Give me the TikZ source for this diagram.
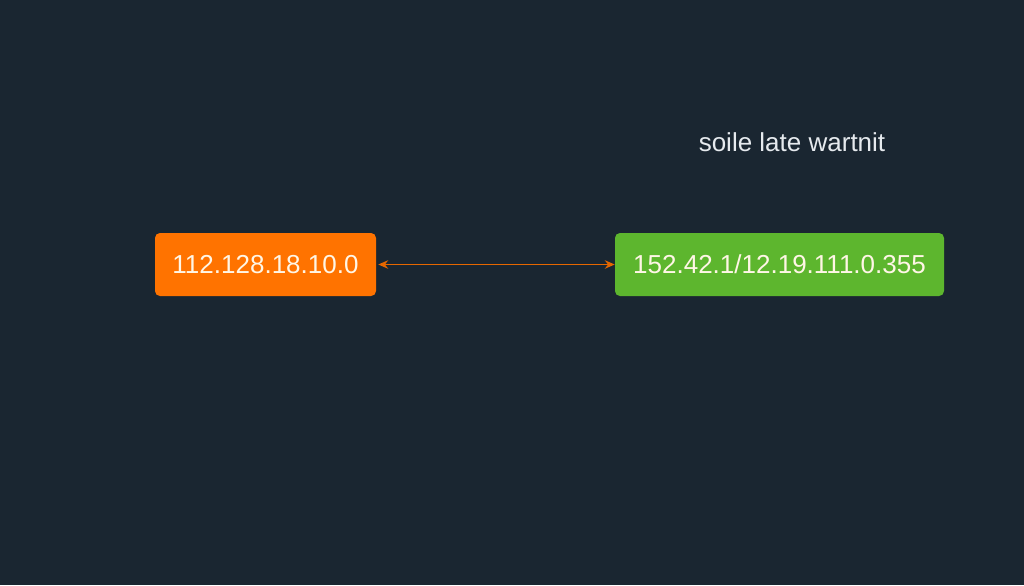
\documentclass[tikz,border=0pt]{standalone}
\usepackage{fontspec}
\setmainfont{Liberation Sans}
\usetikzlibrary{arrows.meta}
\definecolor{bgnavy}{HTML}{1A2631}
\definecolor{ipor}{HTML}{FF7300}
\definecolor{ipgr}{HTML}{5DB62E}
\definecolor{iptext}{HTML}{FFF6E6}
\definecolor{titlegray}{HTML}{E6EAEE}

\begin{document}
\begin{tikzpicture}[
        ipbox/.style={rounded corners=3.5pt, inner sep=0pt, text=iptext,
                      font=\fontsize{18.5}{21}\selectfont, minimum height=1.575cm},
        link/.style={draw=ipor!90!black, line width=1.4pt, {Stealth[length=7pt,width=6pt]}-{Stealth[length=7pt,width=6pt]}}
    ]
                \fill[bgnavy] (0,0) rectangle (25.6,-14.625);
                \useasboundingbox (0,0) rectangle (25.6,-14.625);

                \node[ipbox, fill=ipor, minimum width=5.525cm] (left) at (6.6375,-6.6125) {112.128.18.10.0};
                \node[ipbox, fill=ipgr, minimum width=8.225cm] (right) at (19.4875,-6.6125) {152.42.1/12.19.111.0.355};

                \draw[link] (left.east) ++(0.05,0) coordinate (la) (la) -- (right.west);

                \node[text=titlegray, font=\fontsize{18.5}{22}\selectfont] (title) at (19.8,-3.55) {soile late wartnit};
            \end{tikzpicture}
\end{document}
